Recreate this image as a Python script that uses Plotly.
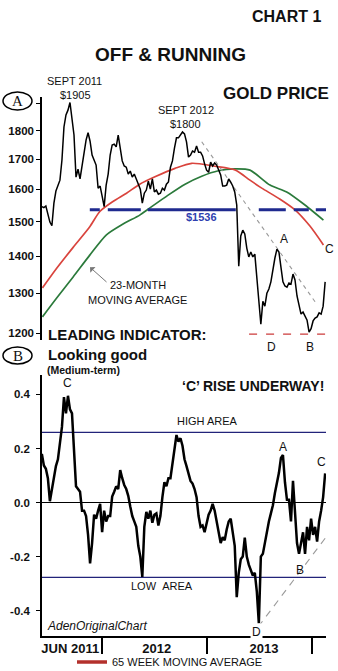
import math
import pandas as pd
import plotly.graph_objects as go

# ---------------- data ----------------
price_start = "2011-06-06"          # weekly closes of gold, $/oz
gold_price = [
    1546, 1543, 1548, 1523, 1499, 1488, 1557, 1595, 1611, 1630,
    1697, 1813, 1857, 1875, 1904, 1833, 1784, 1640, 1666, 1634,
    1680, 1728, 1766, 1792, 1762, 1714, 1694, 1680, 1604, 1611,
    1579, 1546, 1614, 1650, 1714, 1749, 1752, 1742, 1784, 1742,
    1694, 1677, 1673, 1650, 1660, 1640, 1650, 1634, 1617, 1601,
    1557, 1588, 1598, 1627, 1601, 1634, 1592, 1598, 1585, 1588,
    1604, 1598, 1617, 1624, 1673, 1694, 1738, 1774, 1774, 1784,
    1795, 1788, 1760, 1707, 1714, 1728, 1724, 1745, 1724, 1724,
    1711, 1684, 1663, 1656, 1690, 1677, 1687, 1680, 1663, 1647,
    1611, 1611, 1614, 1634, 1624, 1611, 1592, 1551, 1372, 1458,
    1475, 1464, 1423, 1398, 1412, 1398, 1406, 1335, 1270, 1222,
    1279, 1267, 1300, 1311, 1330, 1367, 1395, 1420, 1412, 1370,
    1330, 1319, 1316, 1327, 1324, 1351, 1335, 1293, 1267, 1247,
    1252, 1240, 1232, 1203, 1211, 1230, 1237, 1240, 1250, 1247,
    1267, 1330,
]

leading_indicator = [
    0.18, 0.137, 0.125, 0.09, 0.005, 0.05, 0.095, 0.135, 0.16, 0.215,
    0.28, 0.39, 0.33, 0.395, 0.345, 0.33, 0.19, 0.06, 0.05, 0.04,
    -0.03, -0.03, -0.05, -0.12, -0.225, -0.15, -0.045, -0.06, -0.03, -0.005,
    -0.11, -0.03, -0.07, -0.05, -0.05, 0.022, 0.04, 0.06, 0.05, 0.12,
    0.09, 0.065, 0.05, 0.025, -0.015, -0.05, -0.07, -0.09, -0.16, -0.2,
    -0.275, -0.09, -0.035, -0.06, -0.03, -0.075, -0.045, -0.04, -0.085, -0.05,
    0.02, 0.075, 0.06, 0.09, 0.09, 0.15, 0.2, 0.25, 0.225, 0.238,
    0.21, 0.16, 0.135, 0.11, 0.08, 0.07, 0.05, 0.02, -0.05, -0.09,
    -0.085, -0.11, -0.07, -0.045, -0.03, -0.005, -0.03, -0.07, -0.1, -0.15,
    -0.128, -0.14, -0.1, -0.07, -0.06, -0.12, -0.16, -0.35, -0.26, -0.21,
    -0.2, -0.13, -0.2, -0.23, -0.25, -0.27, -0.26, -0.33, -0.447, -0.2,
    -0.19, -0.145, -0.1, -0.07, -0.04, -0.01, 0.035, 0.07, 0.11, 0.165,
    0.176, 0.075, 0.01, 0.01, -0.07, 0.08, -0.06, -0.15, -0.19, -0.15,
    -0.11, -0.19, -0.09, -0.14, -0.06, -0.12, -0.09, -0.145, -0.07, -0.03,
    0.02, 0.108,
]

ma65_dates = ["2011-06-08", "2011-07-27", "2011-09-23", "2011-11-20", "2011-12-25",
              "2012-02-09", "2012-03-27", "2012-05-12", "2012-07-04", "2012-09-12",
              "2012-11-09", "2013-01-29", "2013-04-09", "2013-05-31", "2013-07-17",
              "2013-09-13", "2013-11-04", "2013-12-26", "2014-02-11"]
ma65_values = [1314, 1366, 1425, 1485, 1531, 1562, 1588, 1617, 1641, 1669,
               1686, 1676, 1664, 1630, 1601, 1569, 1536, 1487, 1432]

ma23m_dates = ["2011-06-08", "2011-07-27", "2011-09-23", "2011-11-20", "2012-01-17",
               "2012-03-15", "2012-05-12", "2012-06-10", "2012-08-19", "2012-10-17",
               "2012-12-14", "2013-02-10", "2013-04-09", "2013-05-31", "2013-08-09",
               "2013-10-06", "2013-12-03", "2014-02-11"]
ma23m_values = [1240, 1287, 1343, 1403, 1461, 1493, 1520, 1538, 1582, 1617,
                1643, 1661, 1667, 1663, 1614, 1592, 1555, 1505]

support_level = 1536
support_span = ["2011-11-20", "2014-02-20"]
bottom_level = 1198
bottom_span = ["2013-05-28", "2014-02-17"]
downtrend_dates = ["2012-12-14", "2014-01-16"]
downtrend_values = [1760, 1275]

high_area = 0.26
low_area = -0.277
uptrend_dates = ["2013-06-29", "2014-02-20"]
uptrend_values = [-0.46, -0.128]

x_range = ["2011-06-06 12:00", "2014-02-20"]
x_label_pos = ["2011-09-13", "2012-07-10", "2013-07-19"]
x_label_text = ["JUN 2011", "2012", "2013"]
year_marks = ["2012-01-01", "2013-01-01", "2014-01-01"]

gold_ticks = [1200, 1300, 1400, 1500, 1600, 1700, 1800, 1900]
gold_tick_text = ["1200", "1300", "1400", "1500", "1600", "1700", "1800", ""]
gold_range = [1184, 1925]
ind_ticks = [-0.4, -0.2, 0.0, 0.2, 0.4]
ind_tick_text = ["-0.4", "-0.2", "0.0", "0.2", "0.4"]
ind_range = [-0.494, 0.472]

# ---------------- layout geometry ----------------
W, H = 338, 671
L, R, T, B = 42, 12, 97, 35
PW, PH = W - L - R, H - T - B


def px(x):
    return (x - L) / PW


def py(y):
    return (H - B - y) / PH


FONT = "Liberation Sans, Arial, sans-serif"
weeks = pd.date_range(price_start, periods=len(gold_price), freq="7D")
ind_weeks = pd.date_range(price_start, periods=len(leading_indicator), freq="7D")

fig = go.Figure()

# ---- panel A : gold price ----
fig.add_trace(go.Scatter(x=ma23m_dates, y=ma23m_values, mode="lines", yaxis="y2",
                         line=dict(color="#2b7a3b", width=1.7, shape="spline", smoothing=0.7),
                         showlegend=False))
fig.add_trace(go.Scatter(x=ma65_dates, y=ma65_values, mode="lines", yaxis="y2",
                         line=dict(color="#d9443d", width=1.7, shape="spline", smoothing=0.7),
                         showlegend=False))
fig.add_trace(go.Scatter(x=support_span, y=[support_level] * 2, mode="lines", yaxis="y2",
                         line=dict(color="#1f2a8f", width=3,
                                   dash="10px,8px,33px,7px,88px,23px,27px,8px,15px,7px,40px,5px"),
                         showlegend=False))
fig.add_trace(go.Scatter(x=bottom_span, y=[bottom_level] * 2, mode="lines", yaxis="y2",
                         line=dict(color="#cc3b3b", width=1.4, dash="8px,9px"),
                         showlegend=False))
fig.add_trace(go.Scatter(x=downtrend_dates, y=downtrend_values, mode="lines", yaxis="y2",
                         line=dict(color="#9a9a9a", width=1.1, dash="4px,4px"),
                         showlegend=False))
fig.add_trace(go.Scatter(x=weeks, y=gold_price, mode="lines", yaxis="y2",
                         line=dict(color="#000000", width=1.5),
                         showlegend=False))

# ---- panel B : leading indicator ----
fig.add_trace(go.Scatter(x=uptrend_dates, y=uptrend_values, mode="lines", yaxis="y",
                         line=dict(color="#9a9a9a", width=1.1, dash="7px,6px"),
                         showlegend=False))
fig.add_trace(go.Scatter(x=ind_weeks, y=leading_indicator, mode="lines", yaxis="y",
                         line=dict(color="#000000", width=2.5),
                         showlegend=False))
# legend entry
fig.add_trace(go.Scatter(x=[None], y=[None], mode="lines", yaxis="y",
                         line=dict(color="#b3302c", width=3.5),
                         name="65 WEEK MOVING AVERAGE", showlegend=True))

shapes = [
    dict(type="line", xref="x domain", x0=0, x1=1, yref="y", y0=high_area, y1=high_area,
         line=dict(color="#22237a", width=1.2), layer="below"),
    dict(type="line", xref="x domain", x0=0, x1=1, yref="y", y0=low_area, y1=low_area,
         line=dict(color="#22237a", width=1.2), layer="below"),
    dict(type="circle", xref="paper", yref="paper", x0=px(3), x1=px(32), y0=py(110), y1=py(92),
         line=dict(color="black", width=1.5)),
    dict(type="circle", xref="paper", yref="paper", x0=px(3), x1=px(32), y0=py(364), y1=py(347),
         line=dict(color="black", width=1.5)),
]


def ann(text, x, y, size=11, bold=False, color="#111111", xanchor="center", family=FONT,
        italic=False, **kw):
    return dict(text=text, x=px(x), y=py(y), xref="paper", yref="paper", showarrow=False,
                xanchor=xanchor, yanchor="middle",
                font=dict(family=family, size=size, color=color,
                          weight="bold" if bold else "normal",
                          style="italic" if italic else "normal"), **kw)


annotations = [
    ann("CHART 1", 286.7, 16.7, 16, True),
    ann("OFF & RUNNING", 170, 54, 19, True),
    ann("SEPT 2011", 74, 80.5, 11),
    ann("$1905", 75, 94.7, 11),
    ann("GOLD PRICE", 275.5, 93.7, 17, True),
    ann("SEPT 2012", 185.5, 109.7, 11),
    ann("$1800", 185.5, 124.3, 11),
    ann("$1536", 201, 216.7, 11, True, color="#2f3fb0"),
    ann("A", 284, 239, 12),
    ann("C", 329, 249, 12),
    ann("D", 271, 346.7, 12),
    ann("B", 310, 346.7, 12),
    ann("23-MONTH", 138, 284.7, 11),
    ann("MOVING AVERAGE", 137.8, 299.5, 11),
    ann("LEADING INDICATOR:", 46, 334, 15, True, xanchor="left"),
    ann("Looking good", 46, 354.5, 15, True, xanchor="left"),
    ann("(Medium-term)", 44.5, 369.7, 10.5, True, xanchor="left"),
    ann("\u2018C\u2019 RISE UNDERWAY!", 326, 386, 14, True, xanchor="right"),
    ann("HIGH AREA", 207, 421, 11),
    ann("LOW\u00a0\u00a0AREA", 161.7, 585.5, 11),
    ann("AdenOriginalChart", 45, 625.8, 12, italic=True, xanchor="left"),
    ann("C", 67.5, 382.5, 12),
    ann("A", 282.5, 447, 12),
    ann("C", 321.7, 462, 12),
    ann("B", 300, 569.5, 12),
    ann("D", 256, 631.7, 12, bgcolor="white", borderpad=1),
    ann("A", 17.5, 101, 15, family="Liberation Serif, Times New Roman, serif"),
    ann("B", 17.5, 355.5, 15, family="Liberation Serif, Times New Roman, serif"),
    dict(text="", x=px(90), y=py(267.3), xref="paper", yref="paper", showarrow=True,
         ax=18, ay=16, arrowhead=1, arrowsize=1.3, arrowwidth=1, arrowcolor="#777777"),
]

fig.update_layout(
    width=W, height=H,
    margin=dict(l=L, r=R, t=T, b=B, pad=0, autoexpand=False),
    paper_bgcolor="white", plot_bgcolor="white",
    font=dict(family=FONT, color="#111111"),
    xaxis=dict(type="date", range=x_range, domain=[0, 1], anchor="y",
               showline=True, linecolor="black", linewidth=1.5, showgrid=False, zeroline=False,
               tickmode="array", tickvals=x_label_pos, ticktext=x_label_text, ticks="",
               tickfont=dict(size=13, weight="bold", color="#111111"),
               minor=dict(tickmode="array", tickvals=year_marks, ticks="outside", ticklen=16,
                          tickcolor="black", tickwidth=1.5, showgrid=False)),
    yaxis=dict(domain=[0, py(375)], range=ind_range, anchor="x",
               showline=True, linecolor="black", linewidth=1.5, showgrid=False,
               zeroline=True, zerolinecolor="black", zerolinewidth=1.2,
               tickmode="array", tickvals=ind_ticks, ticktext=ind_tick_text,
               ticks="outside", ticklen=4, tickcolor="black", ticklabelstandoff=4,
               tickfont=dict(size=11.5, weight="bold", color="#111111")),
    yaxis2=dict(domain=[py(340), 1], type="log",
                range=[math.log10(gold_range[0]), math.log10(gold_range[1])], anchor="x",
                showline=True, linecolor="black", linewidth=1.5, showgrid=False, zeroline=False,
                tickmode="array", tickvals=gold_ticks, ticktext=gold_tick_text,
                ticks="outside", ticklen=4, tickcolor="black",
                tickfont=dict(size=11.5, weight="bold", color="#111111")),
    legend=dict(orientation="h", x=px(72), y=py(662), xanchor="left", yanchor="middle",
                font=dict(size=11, color="#111111"), bgcolor="rgba(0,0,0,0)",
                itemwidth=30, tracegroupgap=0),
    shapes=shapes,
    annotations=annotations,
)

fig.write_html("out.html")
